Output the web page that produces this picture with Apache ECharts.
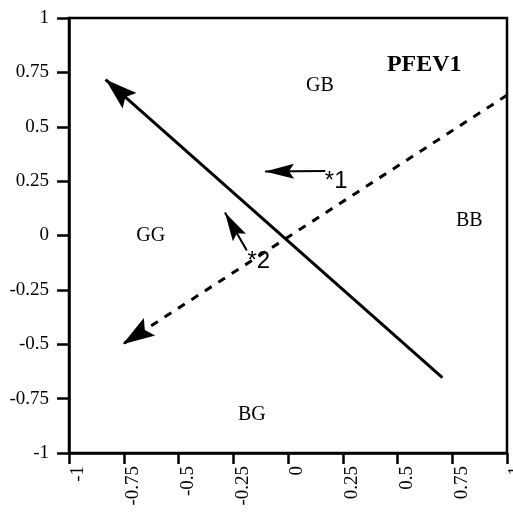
<!DOCTYPE html>
<html>
<head>
<meta charset="utf-8">
<script src="https://cdn.jsdelivr.net/npm/echarts@6/dist/echarts.min.js"></script>
<style>html,body{margin:0;padding:0;background:#fff}#c{width:513px;height:520px}</style>
</head>
<body>
<div id="c"></div>
<script>
// Axis tick values
var xTicks = [-1, -0.75, -0.5, -0.25, 0, 0.25, 0.5, 0.75, 1];
var yTicks = [-1, -0.75, -0.5, -0.25, 0, 0.25, 0.5, 0.75, 1];
var tickLabels = ['-1', '-0.75', '-0.5', '-0.25', '0', '0.25', '0.5', '0.75', '1'];

// Main vectors: [fromX, fromY, toX, toY]
var solidVector = [0.705, -0.653, -0.833, 0.717];
var dashedVector = [1.0, 0.645, -0.755, -0.50];
// Small shift arrows
var shift1 = [0.17, 0.297, -0.105, 0.294];
var shift2 = [-0.188, -0.069, -0.288, 0.106];

// Quadrant labels
var quadNames = ['GB', 'GG', 'BB', 'BG'];
var quadX = [0.146, -0.627, 0.828, -0.165];
var quadY = [0.687, 0.0, 0.069, -0.823];

var titleText = 'PFEV1';
var titlePos = [0.622, 0.786];

var markNames = ['*1', '*2'];
var markX = [0.22, -0.133];
var markY = [0.25, -0.12];

function lab(v) {
  var i = yTicks.indexOf(v);
  return i >= 0 ? tickLabels[i] : '';
}
function seg(a) { return [[a[0], a[1]], [a[2], a[3]]]; }

var serif = '"Liberation Serif", "Times New Roman", serif';
var sans = '"Liberation Sans", Arial, sans-serif';
// arrowhead with tip at the symbol centre; empty points make the box square
var arrowPath = 'path://M0,0 L7.5,23 L0,19 L-7.5,23 Z M0,-23 L0.01,-23 Z M-23,0 L-23,0.01 Z M23,0 L23,0.01 Z';
var arrowPathThin = 'path://M0,0 L6,23 L0,19 L-6,23 Z M0,-23 L0.01,-23 Z M-23,0 L-23,0.01 Z M23,0 L23,0.01 Z';

var chart = echarts.init(document.getElementById('c'));
chart.setOption({
  animation: false,
  backgroundColor: '#fff',
  grid: { left: 69, right: 6, top: 18, bottom: 67, outerBoundsMode: 'none', containLabel: false,
    show: true, borderColor: '#000', borderWidth: 2.5, backgroundColor: 'transparent' },
  xAxis: {
    type: 'value', min: -1, max: 1, interval: 0.25,
    axisLine: { onZero: false, lineStyle: { color: '#000', width: 2.5 } },
    axisTick: { show: true, length: 11, lineStyle: { color: '#000', width: 2.5 } },
    splitLine: { show: false },
    axisLabel: { rotate: 90, margin: 13, color: '#000', fontFamily: serif, fontSize: 19, formatter: lab, showMinLabel: true, showMaxLabel: true, verticalAlign: 'top', hideOverlap: false }
  },
  yAxis: {
    type: 'value', min: -1, max: 1, interval: 0.25,
    axisLine: { onZero: false, lineStyle: { color: '#000', width: 2.5 } },
    axisTick: { show: true, length: 12, lineStyle: { color: '#000', width: 2.5 } },
    splitLine: { show: false },
    axisLabel: { margin: 20, color: '#000', fontFamily: serif, fontSize: 19, formatter: lab, showMinLabel: true, showMaxLabel: true, hideOverlap: false }
  },
  series: [
    {
      type: 'lines', coordinateSystem: 'cartesian2d', polyline: false,
      symbol: ['none', arrowPath], symbolSize: 64,
      lineStyle: { color: '#000', width: 3, opacity: 1 },
      itemStyle: { color: '#000' },
      data: [{ coords: seg(solidVector) }]
    },
    {
      type: 'lines', coordinateSystem: 'cartesian2d', polyline: false,
      symbol: ['none', arrowPath], symbolSize: 64,
      lineStyle: { color: '#000', width: 3, type: [8, 8], opacity: 1 },
      itemStyle: { color: '#000' },
      data: [{ coords: seg(dashedVector) }]
    },
    {
      type: 'lines', coordinateSystem: 'cartesian2d', polyline: false,
      symbol: ['none', arrowPathThin], symbolSize: 58,
      lineStyle: { color: '#000', width: 2, opacity: 1 },
      itemStyle: { color: '#000' },
      data: [{ coords: seg(shift1) }, { coords: seg(shift2) }]
    },
    {
      type: 'scatter', symbolSize: 0, silent: true, itemStyle: { opacity: 1 },
      label: { show: true, position: 'inside', color: '#000', fontFamily: serif, fontSize: 20,
        formatter: function (p) { return p.data[2]; } },
      data: quadNames.map(function (n, i) { return [quadX[i], quadY[i], n]; })
    },
    {
      type: 'scatter', symbolSize: 0, silent: true, itemStyle: { opacity: 1 },
      label: { show: true, position: 'inside', color: '#000', fontFamily: serif, fontSize: 24, fontWeight: 'bold',
        formatter: function (p) { return p.data[2]; } },
      data: [[titlePos[0], titlePos[1], titleText]]
    },
    {
      type: 'scatter', symbolSize: 0, silent: true, itemStyle: { opacity: 1 },
      label: { show: true, position: 'inside', color: '#000', fontFamily: sans, fontSize: 24,
        formatter: function (p) { return p.data[2]; } },
      data: markNames.map(function (n, i) { return [markX[i], markY[i], n]; })
    }
  ]
});
</script>
</body>
</html>
